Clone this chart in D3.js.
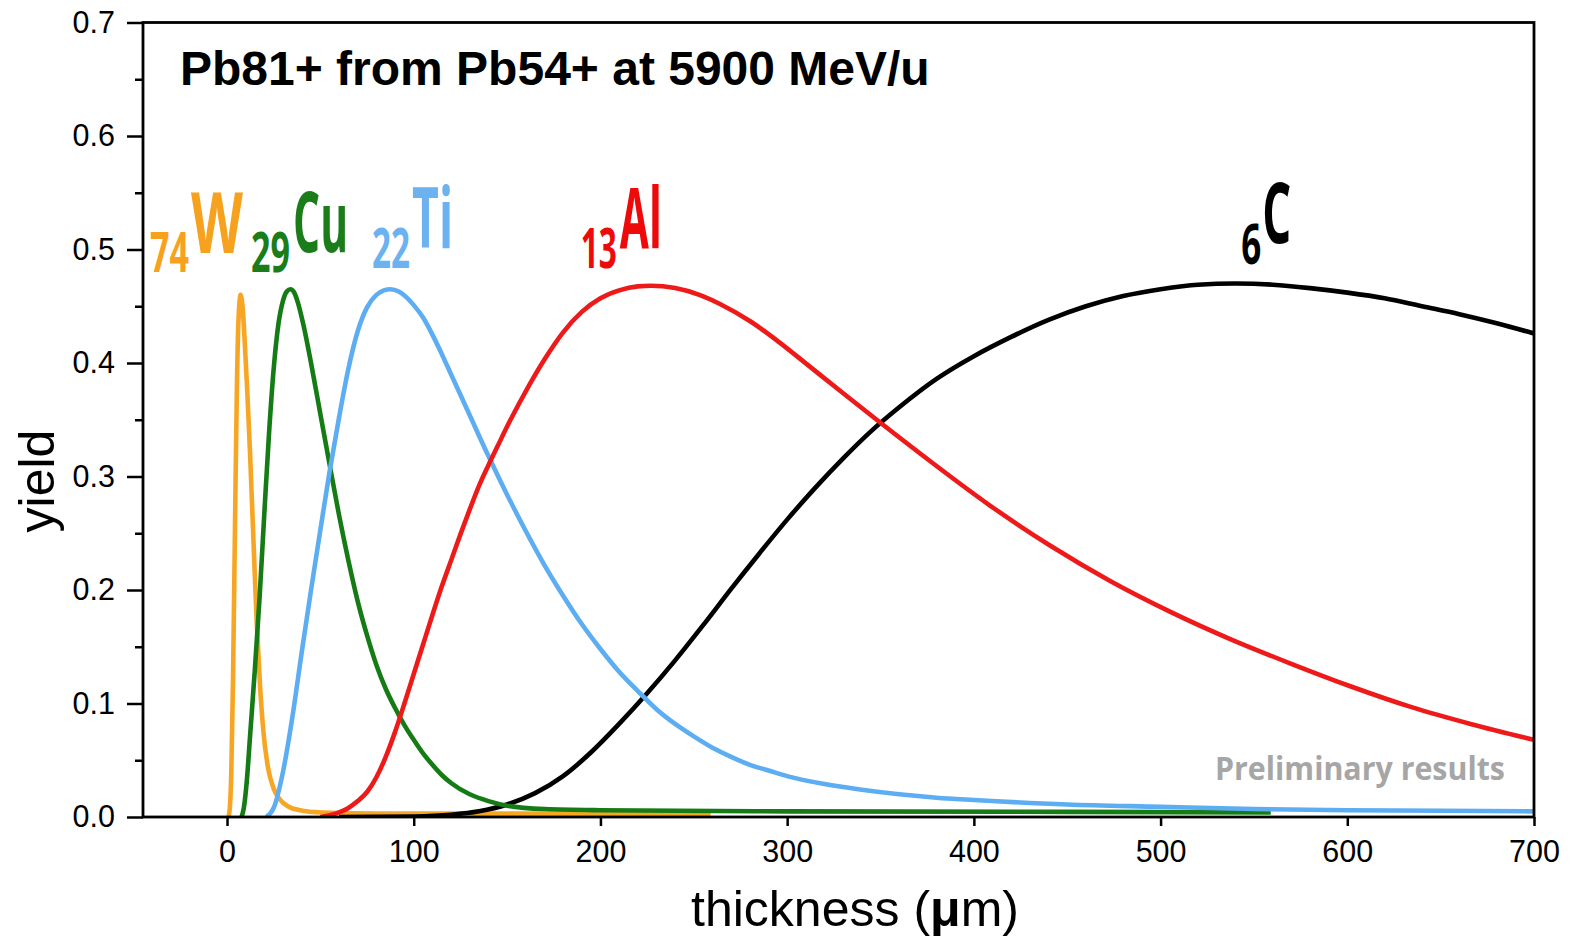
<!DOCTYPE html>
<html>
<head>
<meta charset="utf-8">
<script src="https://cdn.jsdelivr.net/npm/d3@7"></script>
<style>
  html, body { margin: 0; padding: 0; background: #fff; }
  svg { display: block; }
</style>
</head>
<body>
<svg id="chart" width="1570" height="939"></svg>
<script>
// Yield of Pb81+ from Pb54+ at 5900 MeV/u versus target thickness (µm)

const xTicks = [0, 100, 200, 300, 400, 500, 600, 700];
const yTicks = [0.0, 0.1, 0.2, 0.3, 0.4, 0.5, 0.6, 0.7];
const yMinorTicks = [0.05, 0.15, 0.25, 0.35, 0.45, 0.55, 0.65];

// 74W
const wX = [0.8, 1.6, 2.3, 3.2, 4.3, 5.3, 6.2, 7.3, 8.4, 9.5, 10.7, 12.3, 14.1, 15.9, 17.7, 19.5, 22, 25, 28.5, 33, 39, 51, 80, 150, 259];
const wY = [0.0, 0.01, 0.04, 0.12, 0.26, 0.38, 0.44, 0.46, 0.448, 0.418, 0.38, 0.322, 0.246, 0.172, 0.115, 0.075, 0.043, 0.025, 0.015, 0.009, 0.006, 0.004, 0.003, 0.003, 0.003];

// 29Cu
const cuX = [7.8, 9, 10.5, 12.5, 15, 17.5, 20, 22.5, 25, 27.5, 30, 32, 34, 36, 38, 41, 45, 50, 55, 60, 65, 70, 75, 80, 85, 90, 95, 100, 105, 110, 115, 120, 130, 140, 150, 170, 200, 300, 450, 559];
const cuY = [0.0, 0.008, 0.03, 0.075, 0.132, 0.195, 0.268, 0.338, 0.395, 0.434, 0.455, 0.463, 0.465, 0.462, 0.453, 0.433, 0.4, 0.355, 0.31, 0.266, 0.226, 0.19, 0.16, 0.134, 0.113, 0.096, 0.081, 0.068, 0.056, 0.046, 0.037, 0.03, 0.02, 0.014, 0.01, 0.007, 0.006, 0.005, 0.0045, 0.004];

// 22Ti
const tiX = [21, 25, 30, 35, 40, 45, 50, 55, 60, 65, 70, 75, 80, 84, 87.5, 92, 96, 100, 105, 110, 115, 120, 130, 140, 150, 160, 170, 180, 190, 200, 210, 220, 230, 240, 250, 260, 270, 280, 290, 300, 320, 340, 360, 380, 400, 450, 500, 550, 600, 650, 700];
const tiY = [0.0, 0.008, 0.04, 0.088, 0.145, 0.2, 0.253, 0.305, 0.352, 0.395, 0.428, 0.449, 0.46, 0.464, 0.465, 0.463, 0.458, 0.451, 0.44, 0.425, 0.408, 0.39, 0.354, 0.318, 0.284, 0.252, 0.222, 0.195, 0.17, 0.148, 0.128, 0.111, 0.095, 0.082, 0.071, 0.061, 0.053, 0.046, 0.041, 0.036, 0.029, 0.024, 0.02, 0.017, 0.015, 0.011, 0.009, 0.007, 0.006, 0.0055, 0.005];

// 13Al
const alX = [50, 55, 60, 65, 70, 75, 80, 85, 90, 95, 100, 105, 110, 115, 120, 125, 130, 135, 140, 145, 150, 160, 170, 180, 190, 200, 210, 220, 227, 240, 253, 264, 280, 296, 312, 328, 351, 377, 409, 441, 473, 505, 537, 570, 602, 634, 666, 700];
const alY = [0.0, 0.0015, 0.004, 0.008, 0.014, 0.022, 0.035, 0.053, 0.075, 0.1, 0.126, 0.152, 0.178, 0.203, 0.226, 0.249, 0.271, 0.292, 0.31, 0.327, 0.344, 0.375, 0.403, 0.427, 0.445, 0.457, 0.464, 0.4675, 0.468, 0.466, 0.46, 0.452, 0.437, 0.418, 0.397, 0.376, 0.346, 0.313, 0.274, 0.239, 0.208, 0.181, 0.157, 0.135, 0.115, 0.097, 0.082, 0.068];

// 6C
const cX = [60, 100, 120, 135, 150, 165, 180, 195, 210, 225, 240, 255, 270, 285, 300, 315, 330, 345, 360, 380, 400, 420, 440, 460, 480, 500, 520, 540, 560, 580, 600, 620, 640, 660, 680, 700];
const cY = [0.0, 0.0005, 0.002, 0.005, 0.011, 0.021, 0.036, 0.057, 0.082, 0.109, 0.138, 0.169, 0.201, 0.232, 0.262, 0.29, 0.316, 0.34, 0.361, 0.386, 0.406, 0.423, 0.438, 0.45, 0.459, 0.465, 0.469, 0.47, 0.469, 0.466, 0.462, 0.457, 0.45, 0.443, 0.435, 0.426];

const targetSymbols = ["W", "Cu", "Ti", "Al", "C"];
const targetZ = ["74", "29", "22", "13", "6"];

const title = "Pb81+ from Pb54+ at 5900 MeV/u";
const xTitle = "thickness (";
const yTitle = "yield";
const note = "Preliminary results";

// ----- layout -----
const svg = d3.select("#chart");
const plot = { left: 143, right: 1534, top: 22.5, bottom: 817 };

const x = d3.scaleLinear().domain([-45, 700]).range([plot.left, plot.right]);
const y = d3.scaleLinear().domain([0, 0.7]).range([plot.bottom, plot.top]);

const series = [
  { name: "W",  xs: wX,  ys: wY,  color: "#F7A624" },
  { name: "C",  xs: cX,  ys: cY,  color: "#000000" },
  { name: "Cu", xs: cuX, ys: cuY, color: "#157C15" },
  { name: "Ti", xs: tiX, ys: tiY, color: "#5DADF2" },
  { name: "Al", xs: alX, ys: alY, color: "#EE1A1A" }
];

svg.append("defs").append("clipPath").attr("id", "plotClip")
  .append("rect")
  .attr("x", plot.left).attr("y", plot.top - 10)
  .attr("width", plot.right - plot.left).attr("height", plot.bottom - plot.top + 10);

const line = d3.line()
  .x(d => x(d[0]))
  .y(d => y(d[1]))
  .curve(d3.curveMonotoneX);

const curves = svg.append("g").attr("clip-path", "url(#plotClip)");
series.forEach(s => {
  curves.append("path")
    .datum(s.xs.map((v, i) => [v, s.ys[i]]))
    .attr("fill", "none")
    .attr("stroke", s.color)
    .attr("stroke-width", 4.6)
    .attr("stroke-linejoin", "round")
    .attr("d", line);
});

// ----- axes -----
const axisFont = "'Liberation Sans', Arial, sans-serif";

const xAxis = d3.axisBottom(x).tickValues(xTicks).tickSize(9).tickSizeOuter(0).tickPadding(14)
  .tickFormat(d3.format("d"));
const gx = svg.append("g").attr("transform", `translate(0,${plot.bottom})`).call(xAxis);
gx.select(".domain").remove();
gx.selectAll(".tick line").attr("stroke", "#000").attr("stroke-width", 2.5);
gx.selectAll(".tick text").attr("font-family", axisFont).attr("font-size", 30.5).attr("fill", "#000");

const yAxis = d3.axisLeft(y).tickValues(yTicks).tickSize(16).tickSizeOuter(0).tickPadding(12)
  .tickFormat(d3.format(".1f"));
const gy = svg.append("g").attr("transform", `translate(${plot.left},0)`).call(yAxis);
gy.select(".domain").remove();
gy.selectAll(".tick line").attr("stroke", "#000").attr("stroke-width", 2.5);
gy.selectAll(".tick text").attr("font-family", axisFont).attr("font-size", 30.5).attr("fill", "#000");

const yMinor = d3.axisLeft(y).tickValues(yMinorTicks).tickSize(8).tickFormat("");
const gym = svg.append("g").attr("transform", `translate(${plot.left},0)`).call(yMinor);
gym.select(".domain").remove();
gym.selectAll(".tick line").attr("stroke", "#000").attr("stroke-width", 2.5);

// frame
svg.append("rect")
  .attr("x", plot.left).attr("y", plot.top)
  .attr("width", plot.right - plot.left).attr("height", plot.bottom - plot.top)
  .attr("fill", "none").attr("stroke", "#000").attr("stroke-width", 2.8);

// axis titles
const xt = svg.append("text")
  .attr("x", 855).attr("y", 926)
  .attr("text-anchor", "middle")
  .attr("font-family", axisFont).attr("font-size", 50).attr("fill", "#000");
xt.append("tspan").text(xTitle);
xt.append("tspan").attr("font-weight", "bold").text("μ");
xt.append("tspan").text("m)");

svg.append("text")
  .attr("transform", "translate(54,481) rotate(-90)")
  .attr("text-anchor", "middle")
  .attr("font-family", axisFont).attr("font-size", 50).attr("fill", "#000")
  .text(yTitle);

// title
svg.append("text")
  .attr("x", 180).attr("y", 85)
  .attr("font-family", axisFont).attr("font-weight", "bold").attr("font-size", 48)
  .attr("fill", "#000")
  .text(title);

// element labels: condensed subscript atomic number followed by the symbol
const labelFont = "'Open Sans', 'Noto Sans', sans-serif";
const labelColors = ["#F7A21E", "#1A7D1A", "#6CB2F0", "#EE0A0A", "#000000"];
const labelAt = [
  { x: -41.2, y: 0.497, subW: 39, symW: 52, gap: 2, subDrop: 19 },
  { x: 12.9,  y: 0.498, subW: 39, symW: 55, gap: 3, subDrop: 20 },
  { x: 77.7,  y: 0.501, subW: 38, symW: 41, gap: 2, subDrop: 20 },
  { x: 189.5, y: 0.501, subW: 36, symW: 42, gap: 3, subDrop: 20 },
  { x: 543.2, y: 0.506, subW: 20, symW: 29, gap: 1, subDrop: 21 }
];

// squeeze a text horizontally to a given width
function condensed(parent, str, left, base, size, width, color) {
  const g = parent.append("g");
  const t = g.append("text")
    .attr("x", 0).attr("y", 0)
    .attr("font-family", labelFont).attr("font-weight", 700)
    .attr("font-size", size).attr("fill", color)
    .text(str);
  const natural = t.node().getComputedTextLength();
  g.attr("transform", `translate(${left},${base}) scale(${width / natural},1)`);
  return g;
}

targetSymbols.forEach((sym, i) => {
  const p = labelAt[i];
  const px = x(p.x), py = y(p.y);
  condensed(svg, targetZ[i], px, py + p.subDrop, 56, p.subW, labelColors[i]);
  condensed(svg, sym, px + p.subW + p.gap, py, 84, p.symW, labelColors[i]);
});

// watermark note
condensed(svg, note, 1215, 780, 32, 290, "#A6A6A6");
</script>
</body>
</html>
